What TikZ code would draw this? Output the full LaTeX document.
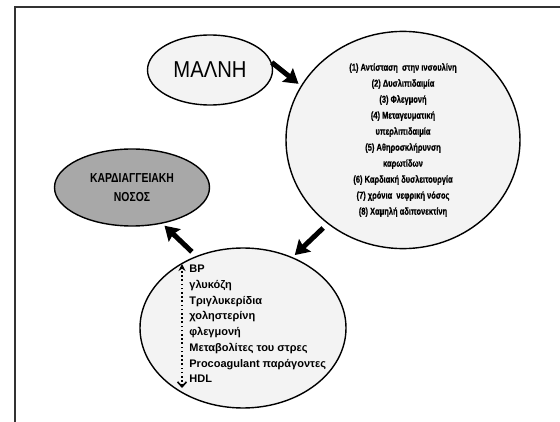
\documentclass[tikz,border=0pt]{standalone}
\usepackage{fontspec}
\setmainfont{Liberation Sans}
\newfontfamily\narrowsf[FakeStretch=0.75,FakeBold=0.6]{Liberation Sans}
\newfontfamily\midsf[FakeStretch=0.8]{Liberation Sans}
\newfontfamily\titlesf[FakeStretch=0.88]{Liberation Sans}
\usetikzlibrary{shapes.geometric,arrows.meta}
\definecolor{paleg}{HTML}{F3F3F3}
\definecolor{midg}{HTML}{A8A8A8}
\definecolor{framec}{HTML}{333333}
\begin{document}
\begin{tikzpicture}[x=1pt,y=-1pt,
 thick,main node/.style={ellipse,draw,line width=1.4pt,fill=paleg,inner sep=0pt,
   align=center,font=\narrowsf\bfseries\fontsize{10}{16}\selectfont},
 big arrow/.style={line width=5pt,-{Stealth[length=14pt,width=17pt,inset=2pt]}},
 dot line/.style={line width=1.6pt,dash pattern=on 1.6pt off 2.6pt,
   {Straight Barb[length=5pt,width=9pt]}-{Stealth[length=7pt,width=7pt]}}]

  \useasboundingbox (0,0) rectangle (560,422);
  \draw[framec,line width=1.5pt] (15,422) -- (15,7) -- (560,7);

  \node[main node,minimum width=125pt,minimum height=70pt,
    font=\titlesf\fontsize{23}{23}\selectfont] (mal) at (210,70) {ΜΑΛΝΗ};
  \node[main node,minimum width=234pt,minimum height=212pt] (risk) at (403,140)
    {(1) Αντίσταση~ στην ινσουλίνη\\(2) Δυσλιπιδαιμία\\(3) Φλεγμονή\\
     (4) Μεταγευματική\\υπερλιπιδαιμία\\(5) Αθηροσκλήρυνση\\καρωτίδων\\
     (6) Καρδιακή δυσλειτουργία\\(7) χρόνια~ νεφρική νόσος\\(8) Χαμηλή αδιπονεκτίνη};
  \node[main node,fill=midg,minimum width=155pt,minimum height=77pt,
    font=\midsf\bfseries\fontsize{13}{19}\selectfont] (cvd) at (132,187.5)
    {ΚΑΡΔΙΑΓΓΕΙΑΚΗ\\ΝΟΣΟΣ};
  \node[main node,minimum width=206pt,minimum height=160pt] (fact) at (243,328) {};
  \node[anchor=west,inner sep=0pt,align=left,
    font=\bfseries\fontsize{11}{15.7}\selectfont] (factlist) at (189,324)
    {BP\\γλυκόζη\\Τριγλυκερίδια\\χοληστερίνη\\φλεγμονή\\
     Μεταβολίτες του στρες\\Procoagulant παράγοντες\\HDL};

  \coordinate (dtop) at (182,264);
  \coordinate (dbot) at (182,388);
  \draw[dot line] (dbot) -- (dtop);

  \foreach \s/\t/\o in {mal.7/risk.152/0pt, risk.228/fact.55/6pt, fact.123/cvd.-50/6pt} {
   \draw[big arrow,shorten <=\o,shorten >=3pt] (\s) -- (\t);}
\end{tikzpicture}
\end{document}
